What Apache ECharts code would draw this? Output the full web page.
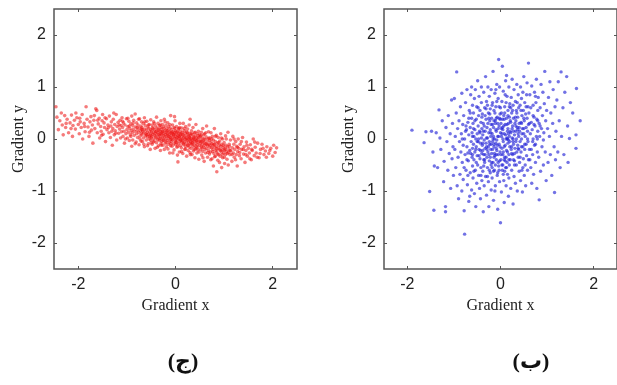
<!DOCTYPE html>
<html><head><meta charset="utf-8">
<script src="https://cdn.jsdelivr.net/npm/echarts@6/dist/echarts.min.js"></script>
<style>html,body{margin:0;padding:0;background:#fff}#c{width:617px;height:385px}</style>
</head><body><div id="c"></div>
<script>
const xTicks = [-2, 0, 2];
const yTicks = [-2, -1, 0, 1, 2];
const xName = 'Gradient x';
const yName = 'Gradient y';
const captions = ['(ج)', '(ب)'];

const redPts = [
[-2.46,0.62],[-2.44,0.42],[-2.41,0.18],[-2.38,0.35],[-2.33,0.27],[-2.31,0.08],
[-2.28,0.45],[-2.26,0.22],[-2.23,0.38],[-2.2,0.12],[-2.17,0.31],[-2.14,0.46],[-2.12,0.05],[-2.11,0.26],
[-2.08,0.36],[-2.06,0.19],[-2.03,0.41],[-2.0,0.28],[-1.98,0.1],[-1.96,0.33],[-1.94,0.22],[-1.92,0.47],[-1.91,0.0],
[-1.88,0.3],[-1.86,0.14],[-1.84,0.62],[-1.82,0.38],[-1.8,0.23],[-1.78,0.05],[-1.76,0.33],[-1.74,0.43],[-1.73,0.17],[-1.71,0.27],[-1.7,-0.08],
[-1.68,0.36],[-1.66,0.2],[-1.64,0.58],[-1.62,0.55],[-1.61,0.12],[-1.59,0.29],[-1.57,0.4],[-1.56,0.02],[-1.54,0.24],[-1.53,0.15],[-1.51,0.35],[-1.5,0.47],
[-1.49,0.09],[-1.47,0.31],[-1.46,0.22],[-1.44,-0.05],[-1.42,0.39],[-1.41,0.18],[-1.39,0.27],[-1.37,0.12],[-1.36,0.44],[-1.34,0.03],[-1.33,0.25],[-1.32,0.33],[-1.31,0.15],[-1.3,-0.12],
[-1.29,0.2],[-1.28,0.38],[-1.26,0.08],[-1.25,0.28],[-1.24,0.16],[-1.22,0.47],[-1.21,-0.02],[-1.2,0.24],[-1.18,0.32],[-1.17,0.11],[-1.15,0.19],[-1.14,0.36],[-1.13,0.02],[-1.12,0.26],[-1.11,0.14],[-1.1,0.41],
[-1.09,0.22],[-1.08,0.05],[-1.07,0.31],[-1.06,0.15],[-1.05,-0.08],[-1.04,0.27],[-1.02,0.1],[-1.01,0.39],[-1.0,0.18],[-0.99,0.02],[-0.98,0.24],[-0.97,0.13],[-0.96,0.34],[-0.95,-0.03],[-0.94,0.2],[-0.93,0.08],[-0.92,0.29],[-0.91,0.16],[-0.9,0.44],[-0.9,-0.14],
[-0.89,0.12],[-0.88,0.26],[-0.88,-0.02],[-0.87,0.19],[-0.86,0.36],[-0.85,0.07],[-0.84,0.15],[-0.83,0.48],[-0.82,0.23],[-0.81,-0.06],[-0.8,0.1],[-0.8,0.31],[-0.79,0.17],[-0.78,0.03],[-0.77,0.27],[-0.76,0.13],[-0.75,-0.11],[-0.75,0.21],[-0.74,0.39],[-0.73,0.06],[-0.72,0.16],[-0.71,0.25],[-0.71,-0.04],[-0.7,0.11],[-0.7,0.33],[-0.7,0.19],
[-0.69,0.08],[-0.69,0.22],[-0.68,-0.05],[-0.67,0.15],[-0.66,0.3],[-0.66,0.02],[-0.65,0.12],[-0.64,0.41],[-0.64,-0.15],[-0.63,0.19],[-0.62,0.06],[-0.62,0.26],[-0.61,0.1],[-0.6,-0.02],[-0.6,0.17],[-0.59,0.34],[-0.58,0.04],[-0.58,0.13],[-0.57,0.23],[-0.56,-0.09],[-0.56,0.09],[-0.55,0.2],[-0.54,0.0],[-0.54,0.28],[-0.53,0.14],[-0.52,-0.2],[-0.52,0.07],[-0.51,0.18],[-0.51,0.37],[-0.5,0.03],[-0.5,0.11],[-0.5,-0.07],
[-0.49,0.16],[-0.49,0.05],[-0.48,0.27],[-0.48,-0.1],[-0.47,0.09],[-0.46,0.2],[-0.46,0.0],[-0.45,0.13],[-0.45,0.33],[-0.44,-0.04],[-0.43,0.07],[-0.43,0.18],[-0.42,-0.18],[-0.42,0.11],[-0.41,0.25],[-0.4,0.02],[-0.4,0.14],[-0.39,0.42],[-0.39,-0.07],[-0.38,0.08],[-0.38,0.21],[-0.37,-0.01],[-0.36,0.12],[-0.36,0.3],[-0.35,0.04],[-0.35,-0.13],[-0.34,0.17],[-0.34,0.09],[-0.33,0.26],[-0.33,-0.03],[-0.32,0.06],[-0.32,0.15],[-0.31,-0.22],[-0.31,0.1],[-0.3,0.22],[-0.3,0.01],[-0.3,0.35],[-0.3,-0.09],
[-0.29,0.08],[-0.29,0.19],[-0.28,-0.05],[-0.28,0.12],[-0.27,0.28],[-0.27,0.02],[-0.26,-0.12],[-0.26,0.15],[-0.25,0.06],[-0.25,0.23],[-0.24,-0.02],[-0.24,0.1],[-0.23,0.38],[-0.23,-0.2],[-0.22,0.04],[-0.22,0.16],[-0.21,-0.08],[-0.21,0.09],[-0.2,0.26],[-0.2,0.0],[-0.19,0.13],[-0.19,-0.15],[-0.18,0.05],[-0.18,0.2],[-0.17,-0.03],[-0.17,0.11],[-0.16,0.31],[-0.16,0.07],[-0.15,-0.1],[-0.15,0.17],[-0.14,0.01],[-0.14,0.24],[-0.13,-0.06],[-0.13,0.09],[-0.12,0.14],[-0.12,-0.27],[-0.11,0.03],[-0.11,0.21],[-0.1,-0.01],[-0.1,0.12],[-0.1,0.45],[-0.1,-0.13],
[-0.09,0.06],[-0.09,-0.05],[-0.08,0.18],[-0.08,0.0],[-0.07,-0.14],[-0.07,0.1],[-0.06,0.27],[-0.06,-0.02],[-0.05,0.04],[-0.05,0.14],[-0.04,-0.09],[-0.04,0.08],[-0.03,0.22],[-0.03,-0.21],[-0.02,0.02],[-0.02,0.12],[-0.01,-0.04],[-0.01,0.35],[0.0,0.05],[0.0,-0.11],[0.0,0.16],[0.01,0.0],[0.01,0.09],[0.02,-0.07],[0.02,0.24],[0.03,0.03],[0.03,-0.16],[0.04,0.13],[0.04,-0.02],[0.05,-0.44],[0.05,0.07],[0.06,0.19],[0.06,-0.09],[0.07,0.01],[0.07,0.11],[0.08,-0.25],[0.08,0.04],[0.09,0.3],[0.09,-0.05],[0.1,0.08],[0.1,-0.13],[0.1,0.15],[-0.02,0.43],[0.04,-0.31],[0.07,0.2],
[0.11,-0.02],[0.11,0.1],[0.12,-0.17],[0.12,0.04],[0.13,0.21],[0.13,-0.07],[0.14,0.0],[0.14,0.13],[0.15,-0.28],[0.15,-0.04],[0.16,0.07],[0.16,0.3],[0.17,-0.11],[0.17,0.02],[0.18,0.16],[0.18,-0.06],[0.19,-0.2],[0.19,0.05],[0.2,0.11],[0.2,-0.01],[0.21,-0.14],[0.21,0.24],[0.22,0.03],[0.22,-0.08],[0.23,0.14],[0.23,-0.33],[0.24,-0.03],[0.24,0.08],[0.25,-0.12],[0.25,0.19],[0.26,0.0],[0.26,-0.22],[0.27,0.06],[0.27,-0.06],[0.28,0.27],[0.28,-0.16],[0.29,0.02],[0.29,0.11],[0.3,-0.09],[0.3,-0.02],[0.3,0.38],[0.3,-0.26],
[0.31,-0.05],[0.31,0.07],[0.32,-0.18],[0.32,0.01],[0.33,0.16],[0.33,-0.1],[0.34,-0.02],[0.34,-0.3],[0.35,0.09],[0.35,-0.07],[0.36,0.22],[0.36,-0.14],[0.37,0.0],[0.37,-0.23],[0.38,0.04],[0.38,-0.04],[0.39,0.12],[0.39,-0.12],[0.4,-0.36],[0.4,-0.01],[0.41,0.06],[0.41,-0.19],[0.42,-0.08],[0.42,0.28],[0.43,0.02],[0.43,-0.15],[0.44,-0.27],[0.44,-0.03],[0.45,0.1],[0.45,-0.11],[0.46,0.0],[0.46,-0.21],[0.47,0.15],[0.47,-0.06],[0.48,-0.39],[0.48,0.03],[0.49,-0.13],[0.5,0.08],
[0.51,-0.08],[0.51,0.05],[0.52,-0.2],[0.52,-0.02],[0.53,0.13],[0.53,-0.14],[0.54,-0.31],[0.54,-0.05],[0.55,0.02],[0.55,-0.1],[0.56,0.2],[0.56,-0.24],[0.57,-0.04],[0.58,-0.16],[0.58,0.08],[0.59,-0.43],[0.59,-0.07],[0.6,-0.12],[0.6,0.1],[0.61,-0.01],[0.62,-0.27],[0.62,-0.09],[0.63,0.04],[0.64,-0.18],[0.64,0.25],[0.65,-0.06],[0.66,-0.35],[0.66,-0.13],[0.67,0.0],[0.68,-0.22],[0.68,0.14],[0.69,-0.1],[0.7,-0.03],[0.7,-0.29],
[0.71,-0.12],[0.71,0.02],[0.72,-0.25],[0.73,-0.06],[0.73,0.12],[0.74,-0.17],[0.75,-0.38],[0.75,-0.09],[0.76,0.05],[0.77,-0.2],[0.77,-0.13],[0.78,-0.52],[0.78,-0.02],[0.79,-0.28],[0.8,-0.1],[0.8,0.2],[0.81,-0.16],[0.82,-0.33],[0.82,-0.05],[0.83,-0.22],[0.84,0.07],[0.84,-0.14],[0.85,-0.63],[0.85,-0.25],[0.86,-0.08],[0.87,-0.41],[0.88,-0.18],[0.88,0.03],[0.89,-0.3],[0.9,-0.12],
[0.91,-0.2],[0.91,-0.04],[0.92,-0.33],[0.93,-0.14],[0.93,0.1],[0.94,-0.25],[0.95,-0.55],[0.95,-0.1],[0.96,-0.21],[0.97,0.0],[0.97,-0.36],[0.98,-0.16],[0.99,-0.27],[1.0,-0.07],[1.0,-0.22],[1.01,-0.47],[1.02,-0.18],[1.03,0.06],[1.03,-0.3],[1.04,-0.12],[1.05,-0.24],[1.06,-0.39],[1.07,-0.15],[1.08,0.13],[1.09,-0.26],[1.1,-0.2],
[1.11,-0.14],[1.12,-0.3],[1.13,-0.02],[1.14,-0.23],[1.16,-0.43],[1.17,-0.17],[1.18,0.05],[1.19,-0.27],[1.2,-0.1],[1.21,-0.35],[1.22,-0.2],[1.24,-0.05],[1.25,-0.3],[1.26,-0.14],[1.27,-0.52],[1.28,-0.24],[1.29,0.0],[1.3,-0.18],
[1.32,-0.26],[1.33,-0.1],[1.35,-0.38],[1.36,-0.2],[1.38,0.03],[1.4,-0.29],[1.41,-0.15],[1.43,-0.45],[1.45,-0.22],[1.46,-0.06],[1.48,-0.33],[1.5,-0.18],
[1.52,-0.27],[1.54,-0.11],[1.56,-0.4],[1.58,-0.22],[1.6,0.0],[1.62,-0.32],[1.64,-0.16],[1.66,-0.27],[1.69,-0.08],
[1.72,-0.36],[1.75,-0.2],[1.78,-0.1],[1.82,-0.3],[1.85,-0.23],[1.88,-0.15],
[1.92,-0.28],[1.96,-0.18],[2.0,-0.33],[2.05,-0.26],[2.08,-0.17]
];

const redPtsExtra = [
[-2.35,0.5],[-2.25,0.3],[-2.15,0.2],[-2.05,0.5],[-1.97,0.4],[-1.87,0.24],[-1.77,0.13],[-1.67,0.45],[-1.6,0.36],[-1.52,0.07],[-1.45,0.41],[-1.38,0.22],[-1.27,0.5],[-1.23,0.11],[-1.16,0.27],[-1.09,0.34],[-1.03,0.0],[-0.98,0.4],
[-0.95,0.25],[-0.92,0.05],[-0.87,0.31],[-0.83,-0.09],[-0.79,0.22],[-0.76,0.38],[-0.73,0.0],[-0.68,0.18],[-0.65,-0.1],[-0.63,0.33],[-0.595,0.08],[-0.575,-0.13],[-0.555,0.27],[-0.535,0.05],[-0.515,-0.02],[-0.475,0.22],[-0.455,-0.06],[-0.435,0.3],[-0.415,0.04],[-0.395,0.15],[-0.375,-0.16],[-0.355,0.19],[-0.335,0.0],[-0.315,0.27],[-0.295,-0.12],[-0.275,0.14],[-0.255,-0.03],[-0.235,0.2],[-0.215,0.33],[-0.195,-0.06],[-0.175,0.16],[-0.155,-0.19],[-0.135,0.05],[-0.115,0.28],[-0.095,-0.09],[-0.075,0.13],[-0.055,-0.27],[-0.035,0.09],[-0.015,0.2],[0.005,-0.06],[0.025,0.14],[0.045,-0.14],[0.065,0.05],[0.085,0.22],[0.105,-0.02],[0.125,-0.24],[0.145,0.09],[0.165,-0.09],[0.185,0.2],[0.205,-0.19],[0.225,0.0],[0.245,0.12],[0.265,-0.12],[0.285,0.04],[0.305,-0.3],[0.325,0.1],[0.345,-0.08],[0.365,0.03],[0.385,-0.2],[0.405,0.13],[0.425,-0.04],[0.445,-0.17],[0.465,0.06],[0.485,-0.25],[0.505,-0.05],[0.525,0.07],[0.545,-0.17],[0.565,-0.36],[0.585,0.0],[0.605,-0.2],[0.625,0.12],[0.645,-0.1],[0.665,-0.26],[0.685,0.02],[0.705,-0.16],[0.725,-0.4],[0.745,0.0],[0.765,-0.24],[0.785,-0.1],[0.805,-0.34],[0.825,0.05],[0.845,-0.19],[0.865,-0.29],[0.885,-0.07],[0.905,-0.45],[0.925,-0.22],[0.945,0.02],[0.965,-0.3],[0.985,-0.12],[1.005,-0.35],[1.025,-0.2],[1.045,0.0],[1.065,-0.28],[1.085,-0.5],[1.105,-0.1],[1.125,-0.22],[1.165,-0.3],[1.205,0.0],[1.235,-0.4],[1.275,-0.16],[1.315,-0.32],[1.355,-0.05],[1.395,-0.2],[1.445,-0.3],[1.47,-0.12],[1.53,-0.38],[1.57,-0.2],[1.63,-0.06],[1.68,-0.35],[1.74,-0.28],[1.8,-0.18],[1.87,-0.35],[1.94,-0.22],[2.02,-0.12]
];

const bluePts = [
[-1.9,0.17],[-1.64,-0.07],[-1.6,0.14],
[-1.52,-1.01],[-1.43,-1.37],[-1.48,0.15],[-1.42,-0.52],[-1.45,-0.25],
[-1.38,0.12],[-1.35,-0.55],[-1.32,0.56],[-1.28,-0.2],[-1.25,0.35],[-1.22,-0.82],[-1.3,0.02],[-1.21,-0.43],
[-1.18,-1.4],[-1.18,-1.3],[-1.17,0.22],[-1.15,-0.05],[-1.13,-0.6],[-1.12,0.45],[-1.1,-0.28],[-1.08,0.1],[-1.07,-0.95],[-1.05,0.75],[-1.04,-0.38],[-1.03,0.3],[-1.02,-0.15],[-1.01,-0.7],
[-0.99,0.78],[-0.98,-0.2],[-0.97,0.05],[-0.96,-0.55],[-0.95,0.5],[-0.94,1.29],[-0.93,-0.9],[-0.92,0.2],[-0.91,-0.35],[-0.9,-1.15],[-0.89,0.35],[-0.88,-0.05],[-0.87,-0.68],[-0.86,0.62],[-0.85,-0.25],[-0.84,0.1],[-0.83,-1.0],[-0.83,0.88],[-0.82,-0.45],[-0.81,0.28],[-0.8,-0.12],[-0.8,-0.78],
[-0.79,0.45],[-0.78,-1.38],[-0.77,-1.83],[-0.77,0.0],[-0.76,-0.3],[-0.75,0.7],[-0.74,-0.6],[-0.73,0.18],[-0.72,-0.15],[-0.72,0.95],[-0.71,-0.88],[-0.7,0.32],[-0.69,-0.42],[-0.68,0.08],[-0.68,-1.2],[-0.67,0.55],[-0.66,-0.22],[-0.65,-0.65],[-0.65,0.22],[-0.64,0.85],[-0.63,-0.05],[-0.62,-0.98],[-0.62,0.4],[-0.61,-0.35],[-0.61,0.12],[-0.6,-0.52],[-0.6,0.65],[-0.6,-0.18],[-0.62,1.0],[-0.66,-1.1],[-0.7,-0.27],[-0.74,0.25],
[-0.59,0.3],[-0.59,-0.75],[-0.58,-0.1],[-0.58,0.5],[-0.57,-0.4],[-0.57,0.05],[-0.56,-1.05],[-0.56,0.78],[-0.55,-0.25],[-0.55,0.18],[-0.54,-0.6],[-0.54,0.95],[-0.53,0.0],[-0.53,-1.3],[-0.52,0.38],[-0.52,-0.15],[-0.51,-0.85],[-0.51,0.62],[-0.5,-0.32],[-0.5,0.1],[-0.49,-0.5],[-0.49,1.12],[-0.48,0.25],[-0.48,-0.05],[-0.47,-0.7],[-0.47,0.45],[-0.46,-0.2],[-0.46,0.82],[-0.45,-0.95],[-0.45,0.15],[-0.44,-0.38],[-0.44,0.55],[-0.43,-0.08],[-0.43,-1.15],[-0.42,0.32],[-0.42,-0.55],[-0.41,0.02],[-0.41,0.7],[-0.4,-0.28],[-0.4,-0.8],[-0.4,0.2],[-0.41,1.0],
[-0.39,-0.12],[-0.39,0.48],[-0.38,-0.62],[-0.38,0.08],[-0.37,-1.4],[-0.37,0.3],[-0.36,-0.3],[-0.36,0.9],[-0.35,-0.02],[-0.35,-0.9],[-0.34,0.6],[-0.34,-0.45],[-0.33,0.15],[-0.33,-0.18],[-0.32,1.2],[-0.32,-0.72],[-0.31,0.38],[-0.31,-0.08],[-0.3,-1.08],[-0.3,0.72],[-0.29,-0.35],[-0.29,0.22],[-0.28,-0.55],[-0.28,0.02],[-0.27,1.0],[-0.27,-0.25],[-0.26,0.5],[-0.26,-0.82],[-0.25,0.12],[-0.25,-1.3],[-0.24,-0.42],[-0.24,0.82],[-0.23,-0.1],[-0.23,0.35],[-0.22,-0.65],[-0.22,0.58],[-0.21,-0.2],[-0.21,0.05],[-0.2,-0.98],[-0.2,0.28],[-0.2,-0.5],[-0.2,0.95],[-0.3,-0.15],[-0.33,0.45],[-0.36,-0.4],[-0.25,-0.3],[-0.22,0.18],[-0.28,0.65],[-0.38,-0.22],[-0.24,-0.05],
[-0.19,0.4],[-0.19,-0.28],[-0.18,0.1],[-0.18,-0.75],[-0.17,0.7],[-0.17,-0.05],[-0.16,-0.45],[-0.16,1.3],[-0.15,0.22],[-0.15,-1.18],[-0.14,-0.15],[-0.14,0.55],[-0.13,-0.6],[-0.13,0.0],[-0.12,0.88],[-0.12,-0.32],[-0.11,0.3],[-0.11,-0.9],[-0.1,-0.08],[-0.1,0.62],[-0.09,-0.4],[-0.09,0.15],[-0.08,1.05],[-0.08,-0.22],[-0.07,-0.7],[-0.07,0.42],[-0.06,0.05],[-0.06,-1.35],[-0.05,-0.3],[-0.05,0.78],[-0.04,1.53],[-0.04,-0.52],[-0.03,0.25],[-0.03,-0.1],[-0.02,1.0],[-0.02,-0.82],[-0.01,0.48],[-0.01,-0.25],[0.0,-1.61],[0.0,0.12],[-0.02,-0.42],[-0.05,0.2],[-0.08,-0.02],[-0.11,0.35],[-0.14,-0.35],[-0.17,0.28],[-0.18,-0.55],[-0.1,0.95],[-0.06,-0.65],[-0.03,0.62],[-0.12,-1.0],[-0.15,0.05],[-0.09,-0.18],[-0.01,0.38],
[0.01,0.3],[0.01,-0.4],[0.02,0.05],[0.02,-1.02],[0.03,0.72],[0.03,-0.18],[0.04,1.4],[0.04,-0.6],[0.05,0.18],[0.05,-0.3],[0.06,0.92],[0.06,-0.05],[0.07,-0.8],[0.07,0.45],[0.08,-1.22],[0.08,0.1],[0.09,-0.35],[0.09,0.62],[0.1,-0.12],[0.1,0.28],[0.11,-0.55],[0.11,1.12],[0.12,0.0],[0.12,-0.9],[0.13,0.4],[0.13,-0.22],[0.14,0.82],[0.14,-0.45],[0.15,0.15],[0.15,-0.68],[0.16,-0.08],[0.16,0.55],[0.17,-1.1],[0.17,0.3],[0.18,-0.3],[0.18,1.0],[0.19,0.05],[0.19,-0.5],[0.2,0.68],[0.2,-0.15],[0.05,-0.5],[0.08,0.38],[0.12,-0.35],[0.16,0.2],[0.02,0.5],[0.18,-0.75],[0.1,0.85],[0.06,-0.25],[0.14,0.02],[0.04,0.22],[0.19,0.42],[0.09,-0.62],[0.13,1.22],[0.17,-0.02],
[0.21,0.35],[0.21,-0.4],[0.22,0.12],[0.22,-0.95],[0.23,0.8],[0.23,-0.2],[0.24,0.5],[0.24,-0.6],[0.25,0.02],[0.25,1.15],[0.26,-0.3],[0.26,0.25],[0.27,-1.25],[0.27,0.65],[0.28,-0.1],[0.28,0.4],[0.29,-0.72],[0.29,0.95],[0.3,0.08],[0.3,-0.42],[0.31,0.3],[0.31,-0.18],[0.32,0.72],[0.32,-0.85],[0.33,0.15],[0.33,-0.05],[0.34,0.55],[0.34,-0.5],[0.35,1.05],[0.35,-0.25],[0.36,0.22],[0.36,-1.0],[0.37,0.42],[0.37,-0.12],[0.38,0.85],[0.38,-0.35],[0.39,0.05],[0.39,0.6],[0.4,-0.62],[0.4,0.3],[0.25,0.2],[0.28,-0.4],[0.33,0.35],[0.37,0.18],[0.22,0.6],[0.3,-0.28],[0.35,0.5],[0.27,0.0],[0.39,-0.2],[0.24,-0.15],
[0.41,0.15],[0.41,-0.45],[0.42,0.65],[0.42,-0.05],[0.43,1.0],[0.43,-0.8],[0.44,0.32],[0.44,-0.25],[0.45,0.78],[0.45,0.0],[0.46,-0.6],[0.46,0.45],[0.47,-1.02],[0.47,0.2],[0.48,-0.15],[0.48,0.9],[0.49,0.55],[0.49,-0.38],[0.5,0.1],[0.5,1.2],[0.51,-0.7],[0.51,0.35],[0.52,-0.2],[0.52,0.7],[0.53,0.05],[0.53,-0.5],[0.54,0.48],[0.54,-0.9],[0.55,0.22],[0.55,-0.1],[0.56,0.85],[0.56,-0.32],[0.57,0.4],[0.57,1.08],[0.58,-0.6],[0.58,0.15],[0.59,-0.05],[0.59,0.62],[0.6,1.46],[0.6,-0.4],[0.6,0.28],[0.45,0.3],
[0.61,0.5],[0.62,-0.2],[0.63,0.85],[0.64,0.1],[0.65,-0.55],[0.66,0.32],[0.67,1.02],[0.67,-0.85],[0.68,0.18],[0.69,-0.3],[0.7,0.65],[0.7,0.0],[0.71,-0.68],[0.72,0.42],[0.73,0.9],[0.73,-0.12],[0.74,0.25],[0.75,-0.45],[0.76,0.7],[0.77,0.05],[0.77,1.15],[0.78,-0.95],[0.78,0.38],[0.79,-0.25],[0.8,0.55],[0.8,0.15],[0.65,0.6],[0.69,-0.05],[0.72,0.28],[0.75,0.82],[0.63,-0.4],[0.79,0.0],
[0.81,0.8],[0.82,-0.35],[0.83,-1.17],[0.83,0.3],[0.84,0.05],[0.85,0.6],[0.86,-0.62],[0.87,1.05],[0.88,0.2],[0.89,-0.15],[0.9,0.45],[0.91,0.9],[0.92,-0.5],[0.93,0.12],[0.94,0.68],[0.95,1.3],[0.96,-0.25],[0.97,0.35],[0.98,-0.8],[0.99,0.55],[0.85,0.25],[0.92,-0.02],
[1.01,0.2],[1.02,-0.45],[1.03,0.8],[1.05,0.05],[1.06,1.1],[1.07,-0.3],[1.08,0.5],[1.1,-0.7],[1.12,0.3],[1.13,0.95],[1.15,-0.15],[1.16,-1.03],[1.17,0.62],[1.18,-0.4],[1.19,0.15],
[1.21,0.75],[1.23,-0.25],[1.24,1.1],[1.26,0.35],[1.28,-0.55],[1.3,1.29],[1.31,0.05],[1.34,0.6],[1.36,-0.3],[1.38,0.9],
[1.42,1.2],[1.44,0.25],[1.45,-0.45],[1.48,0.01],[1.5,0.7],[1.55,0.5],
[1.62,-0.18],[1.63,0.97],[1.71,0.35],[1.62,0.08]
];

const bluePtsExtra = [
[-0.72,-0.4],[-0.68,0.4],[-0.64,-0.28],[-0.6,0.05],[-0.57,-0.62],[-0.55,0.35],[-0.52,-0.45],[-0.5,-0.05],[-0.48,0.6],[-0.46,-0.32],[-0.44,0.12],[-0.42,-0.7],[-0.4,0.42],[-0.38,-0.08],[-0.36,-0.52],[-0.35,0.25],[-0.33,-0.3],[-0.31,0.58],[-0.3,0.02],[-0.28,-0.72],[-0.27,0.3],[-0.26,-0.15],[-0.24,-0.6],[-0.23,0.48],[-0.22,-0.35],[-0.21,0.12],[-0.19,-0.45],[-0.18,0.65],[-0.17,-0.2],[-0.16,0.0],[-0.15,-0.62],[-0.14,0.35],[-0.13,-0.28],[-0.12,0.5],[-0.11,-0.5],[-0.1,0.18],[-0.09,-0.3],[-0.08,0.72],[-0.07,-0.12],[-0.06,0.3],[-0.05,-0.45],[-0.04,0.05],[-0.03,-0.6],[-0.02,0.4],[-0.01,-0.15],[0.0,0.6],[0.01,-0.3],[0.02,0.2],[0.03,-0.5],[0.04,0.38],[0.05,0.0],[0.06,-0.68],[0.07,0.25],[0.08,-0.15],[0.09,0.5],[0.1,-0.42],[0.11,0.08],[0.12,0.7],[0.13,-0.55],[0.14,0.28],[0.15,-0.25],[0.16,0.45],[0.17,0.1],[0.18,-0.4],[0.19,0.62],[0.2,-0.05],[0.22,0.32],[0.24,-0.28],[0.26,0.55],[0.28,0.15],[0.3,-0.5],[0.32,0.42],[0.34,0.0],[0.36,0.7],[0.38,-0.18],[0.4,0.22],[0.42,-0.35],[0.44,0.55],[0.46,0.1],[0.48,-0.55],[0.5,0.4],[0.52,-0.1],[0.55,0.62],[0.58,0.0],[0.62,0.3],[0.66,-0.2],[0.7,0.45],[0.75,-0.1],[0.8,0.35],
[-0.82,0.0],[-0.78,-0.55],[-0.75,0.15],[-0.7,-0.7],[-0.65,0.5],[-0.6,-0.3],[-0.58,0.2],[-0.53,-0.2],[-0.47,0.0],[-0.43,-0.22],[-0.37,0.15],[-0.34,-0.4],[-0.29,-0.2],[-0.25,0.4],[-0.2,-0.1],[-0.14,-0.1],[-0.09,0.4],[0.03,0.1],[0.08,-0.4],[0.15,0.0],[0.21,0.15],[0.27,-0.05],[0.33,0.25],[0.38,0.1],[0.45,-0.15],[0.5,0.2]
];

const chart = echarts.init(document.getElementById('c'), null, {renderer: 'canvas'});
const lineCol = '#555';
const labelFont = {fontFamily: 'Liberation Sans, Arial, sans-serif', fontSize: 16, color: '#222'};
const nameFont = {fontFamily: 'Liberation Serif, Times New Roman, serif', fontSize: 16, color: '#222'};

function xAxes(gi) {
  return [
    {gridIndex: gi, type: 'value', min: -2.5, max: 2.5, position: 'bottom',
     name: xName, nameLocation: 'middle', nameGap: 26, nameTextStyle: nameFont,
     axisLine: {show: false, onZero: false}, splitLine: {show: false},
     axisTick: {inside: true, length: 3, customValues: xTicks, lineStyle: {color: lineCol}},
     axisLabel: Object.assign({customValues: xTicks, margin: 8}, labelFont)},
    {gridIndex: gi, type: 'value', min: -2.5, max: 2.5, position: 'top',
     axisLine: {show: false, onZero: false}, splitLine: {show: false}, axisLabel: {show: false},
     axisTick: {inside: true, length: 3, customValues: xTicks, lineStyle: {color: lineCol}}}
  ];
}
function yAxes(gi) {
  return [
    {gridIndex: gi, type: 'value', min: -2.5, max: 2.5, position: 'left',
     name: yName, nameLocation: 'middle', nameGap: 27, nameRotate: 90, nameTextStyle: nameFont,
     axisLine: {show: false, onZero: false}, splitLine: {show: false},
     axisTick: {inside: true, length: 3, customValues: yTicks, lineStyle: {color: lineCol}},
     axisLabel: Object.assign({customValues: yTicks, margin: 8}, labelFont)},
    {gridIndex: gi, type: 'value', min: -2.5, max: 2.5, position: 'right',
     axisLine: {show: false, onZero: false}, splitLine: {show: false}, axisLabel: {show: false},
     axisTick: {inside: true, length: 3, customValues: yTicks, lineStyle: {color: lineCol}}}
  ];
}

chart.setOption({
  animation: false,
  backgroundColor: '#fff',
  grid: [
    {left: 54, top: 9, width: 243, height: 260, show: true, borderColor: lineCol, borderWidth: 1.5, backgroundColor: 'transparent'},
    {left: 384, top: 9, width: 244, height: 260, show: true, borderColor: lineCol, borderWidth: 1.5, backgroundColor: 'transparent'}
  ],
  xAxis: xAxes(0).concat(xAxes(1)),
  yAxis: yAxes(0).concat(yAxes(1)),
  title: [
    {text: captions[0], left: 178, top: 346, textAlign: 'center',
     textStyle: {fontFamily: 'Liberation Serif, DejaVu Sans, serif', fontSize: 22, fontWeight: 'bold', color: '#111'}},
    {text: captions[1], left: 526, top: 346, textAlign: 'center',
     textStyle: {fontFamily: 'Liberation Serif, DejaVu Sans, serif', fontSize: 22, fontWeight: 'bold', color: '#111'}}
  ],
  series: [
    {type: 'scatter', xAxisIndex: 0, yAxisIndex: 0, data: redPts.concat(redPtsExtra), symbolSize: 3.6,
     itemStyle: {color: 'rgba(238,20,20,0.7)'}},
    {type: 'scatter', xAxisIndex: 2, yAxisIndex: 2, data: bluePts.concat(bluePtsExtra), symbolSize: 3.4,
     itemStyle: {color: 'rgba(35,35,215,0.8)'}}
  ]
});
</script>
</body></html>
